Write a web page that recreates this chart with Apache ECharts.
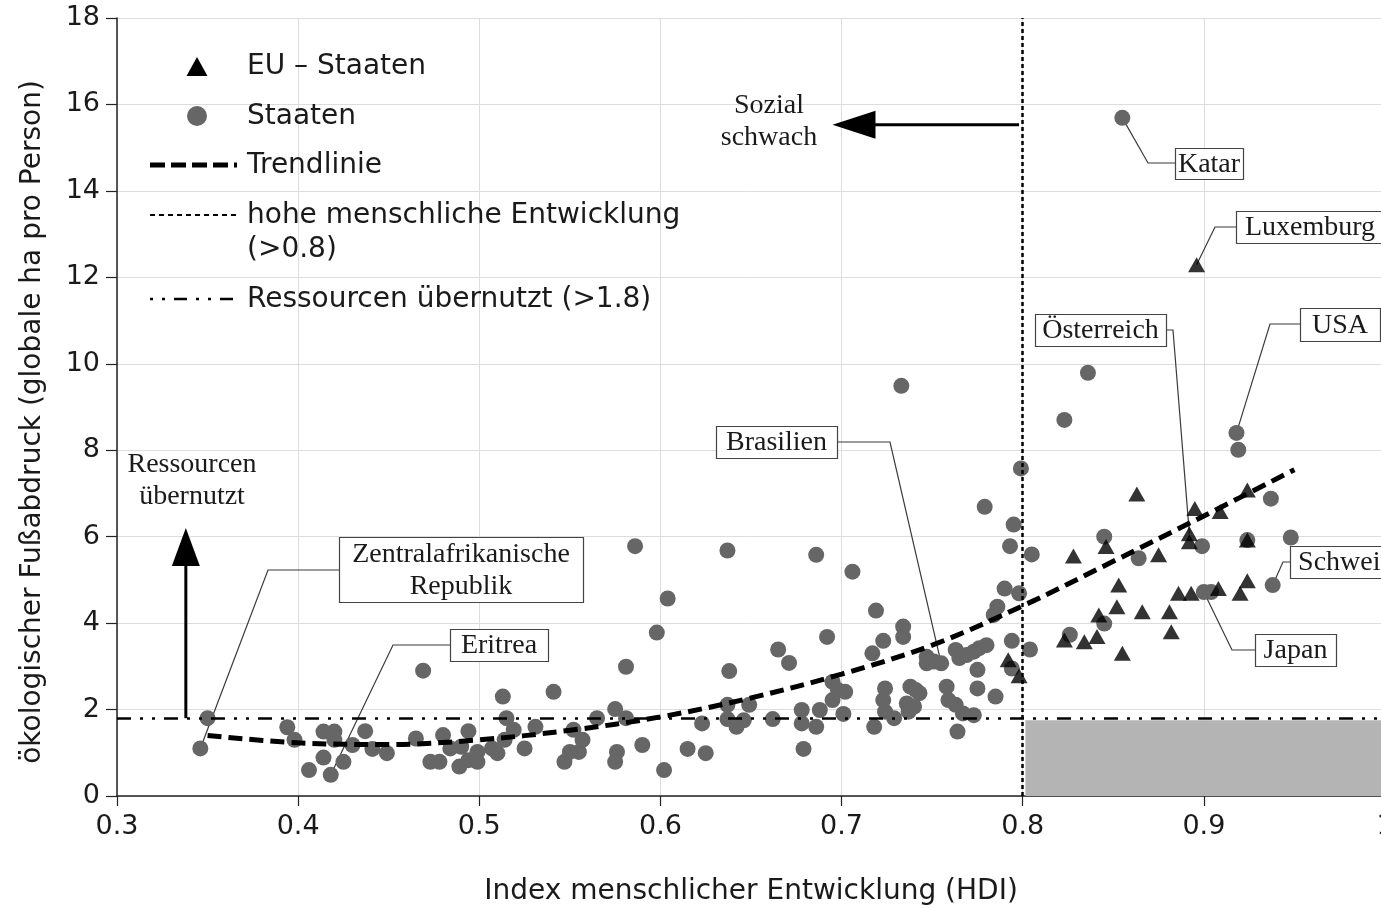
<!DOCTYPE html>
<html>
<head>
<meta charset="utf-8">
<script src="https://cdn.jsdelivr.net/npm/echarts@6/dist/echarts.min.js"></script>
<style>
  html, body { margin: 0; padding: 0; background: #fff; }
  #chart { width: 1381px; height: 909px; }
</style>
</head>
<body>
<div id="chart"></div>
<script>
// HDI (x) vs. ecological footprint in global hectares per person (y)
const staaten = [
  [0.350,1.80],[0.394,1.59],[0.398,1.30],[0.406,0.60],[0.414,1.49],[0.414,0.89],[0.420,1.49],[0.420,1.30],
  [0.425,0.79],[0.430,1.18],[0.437,1.50],[0.441,1.09],[0.449,0.99],[0.465,1.33],[0.469,2.90],[0.473,0.79],
  [0.478,0.79],[0.480,1.41],[0.484,1.10],[0.489,0.68],[0.490,1.14],[0.494,1.50],[0.494,0.83],[0.499,0.79],
  [0.499,1.02],[0.507,1.10],[0.510,0.99],[0.513,2.30],[0.515,1.80],[0.519,1.53],[0.514,1.30],[0.525,1.10],
  [0.531,1.60],[0.541,2.41],[0.547,0.79],[0.550,1.02],[0.555,1.02],[0.552,1.53],[0.557,1.30],[0.565,1.80],
  [0.575,2.01],[0.576,1.02],[0.575,0.79],[0.581,2.99],[0.581,1.80],[0.586,5.78],[0.637,5.68],[0.686,5.58],
  [0.604,4.57],[0.598,3.78],[0.638,2.89],[0.665,3.39],[0.671,3.08],[0.590,1.18],[0.602,0.60],[0.615,1.09],
  [0.625,0.99],[0.623,1.68],[0.637,2.11],[0.637,1.78],[0.642,1.60],[0.646,1.75],[0.649,2.11],[0.662,1.78],
  [0.678,1.99],[0.678,1.68],[0.679,1.09],[0.686,1.60],[0.688,1.99],[0.692,3.68],[0.695,2.64],[0.695,2.22],
  [0.698,2.45],[0.702,2.41],[0.701,1.90],[0.733,9.49],[0.706,5.19],[0.719,4.29],[0.734,3.92],[0.734,3.68],
  [0.723,3.59],[0.717,3.30],[0.718,1.60],[0.724,2.49],[0.723,2.22],[0.724,1.95],[0.729,1.80],[0.738,2.53],
  [0.741,2.45],[0.743,2.38],[0.736,2.14],[0.740,2.07],[0.737,1.95],[0.758,2.53],[0.759,2.22],[0.763,2.11],
  [0.767,1.91],[0.773,1.87],[0.764,1.49],[0.775,2.92],[0.775,2.49],[0.785,2.30],[0.747,3.22],[0.747,3.07],
  [0.751,3.11],[0.763,3.38],[0.765,3.19],[0.769,3.26],[0.773,3.34],[0.776,3.42],[0.780,3.49],[0.779,6.69],
  [0.799,7.58],[0.795,6.28],[0.793,5.78],[0.805,5.59],[0.790,4.80],[0.798,4.69],[0.786,4.38],[0.784,4.19],
  [0.794,3.59],[0.804,3.39],[0.794,2.95],[0.823,8.70],[0.836,9.79],[0.919,8.01],[0.845,6.00],[0.864,5.50],
  [0.845,3.99],[0.826,3.73],[0.899,5.78],[0.924,5.92],[0.937,6.88],[0.948,5.98],[0.904,4.72]
];

const euStaaten = [
  [0.792,3.15],[0.798,2.78],[0.863,6.99],[0.895,6.65],[0.909,6.58],[0.924,7.08],[0.924,5.92],[0.828,5.55],
  [0.846,5.77],[0.875,5.58],[0.892,5.88],[0.853,4.88],[0.852,4.38],[0.842,4.19],[0.866,4.26],[0.881,4.26],
  [0.882,3.80],[0.823,3.61],[0.834,3.57],[0.841,3.69],[0.855,3.30],[0.886,4.69],[0.893,4.69],[0.908,4.80],
  [0.920,4.69],[0.924,4.98]
];

// named countries
const namedStaaten = [
  { name: 'Zentralafrikanische Republik', hdi: 0.346, fp: 1.10 },
  { name: 'Eritrea', hdi: 0.418, fp: 0.49 },
  { name: 'Brasilien', hdi: 0.755, fp: 3.07 },
  { name: 'Katar', hdi: 0.855, fp: 15.69 },
  { name: 'USA', hdi: 0.918, fp: 8.40 },
  { name: 'Schweiz', hdi: 0.938, fp: 4.88 },
  { name: 'Japan', hdi: 0.900, fp: 4.72 }
];
const namedEuStaaten = [
  { name: 'Luxemburg', hdi: 0.896, fp: 12.29 },
  { name: 'Österreich', hdi: 0.892, fp: 6.07 }
];

// trend line
const trendHdi       = [0.35, 0.40, 0.45, 0.50, 0.55, 0.60, 0.65, 0.70, 0.75, 0.80, 0.85, 0.90, 0.95];
const trendFootprint = [1.40, 1.23, 1.19, 1.30, 1.52, 1.83, 2.27, 2.82, 3.49, 4.40, 5.43, 6.48, 7.55];

const hdiThreshold = 0.8;
const footprintThreshold = 1.8;
const capacityBand = 1.75;

// callout boxes: pixel layout of box and leader elbow
const calloutLayout = {
  'Katar':      { box: [1175, 148, 68, 31],  path: [[1175, 163], [1148, 163]] },
  'Luxemburg':  { box: [1236, 211, 148, 32], path: [[1236, 227], [1215, 227]] },
  'Österreich': { box: [1035, 314, 131, 32], path: [[1166, 330], [1173, 330]] },
  'USA':        { box: [1300, 308, 80, 33],  path: [[1300, 324], [1270, 324]] },
  'Brasilien':  { box: [716, 426, 121, 32],  path: [[837, 442], [890, 442]] },
  'Zentralafrikanische Republik': { box: [339, 537, 244, 65], path: [[339, 570], [268, 570]], text: 'Zentralafrikanische\nRepublik' },
  'Eritrea':    { box: [450, 629, 98, 32],   path: [[450, 645], [393, 645]] },
  'Schweiz':    { box: [1290, 546, 111, 32], path: [[1290, 562], [1283, 562]] },
  'Japan':      { box: [1255, 634, 81, 32],  path: [[1255, 650], [1232, 650]] }
};

const SANS = '"DejaVu Sans", "Liberation Sans", sans-serif';
const SERIF = '"Liberation Serif", "DejaVu Serif", serif';
const INK = '#1a1a1a';
const DOT_GREY = '#666666';

const chart = echarts.init(document.getElementById('chart'), null, { renderer: 'canvas' });

chart.setOption({
  animation: false,
  backgroundColor: '#ffffff',
  grid: { left: 117, right: -4, top: 18, bottom: 113, containLabel: false, outerBoundsMode: 'none' },
  xAxis: {
    type: 'value', min: 0.3, max: 1.0, interval: 0.1,
    name: 'Index menschlicher Entwicklung (HDI)',
    nameLocation: 'middle', nameGap: 82,
    nameTextStyle: { fontFamily: SANS, fontSize: 28, color: INK },
    axisLine: { lineStyle: { color: '#222', width: 1.5 } },
    axisTick: { show: true, length: 10, lineStyle: { color: '#222', width: 1.2 } },
    axisLabel: { fontFamily: SANS, fontSize: 27, color: INK, margin: 17 },
    splitLine: { show: true, lineStyle: { color: '#dddddd', width: 1 } }
  },
  yAxis: {
    type: 'value', min: 0, max: 18, interval: 2,
    name: 'ökologischer Fußabdruck (globale ha pro Person)',
    nameLocation: 'middle', nameGap: 70,
    nameTextStyle: { fontFamily: SANS, fontSize: 28, color: INK, padding: [0, 30, 0, 0] },
    axisLine: { show: true, lineStyle: { color: '#222', width: 1.5 } },
    axisTick: { show: true, length: 11, lineStyle: { color: '#222', width: 1.2 } },
    axisLabel: { fontFamily: SANS, fontSize: 27, color: INK, margin: 17 },
    splitLine: { show: true, lineStyle: { color: '#dddddd', width: 1 } }
  },
  series: [
    {
      name: 'Staaten', type: 'scatter', z: 3,
      symbol: 'circle', symbolSize: 16,
      itemStyle: { color: DOT_GREY, opacity: 1 },
      data: staaten.concat(namedStaaten.map(c => [c.hdi, c.fp]))
    },
    {
      name: 'Trendlinie', type: 'line', z: 4,
      smooth: 0.35, showSymbol: false, symbol: 'none',
      lineStyle: { color: '#000', width: 5, type: [14, 7] },
      data: trendHdi.map((h, i) => [h, trendFootprint[i]]),
      markLine: {
        silent: true, symbol: 'none', label: { show: false },
        data: [
          { xAxis: hdiThreshold, lineStyle: { color: '#000', width: 2.5, type: [4, 3] } },
          { yAxis: footprintThreshold, lineStyle: { color: '#000', width: 2.5, type: [14, 9, 3, 9, 3, 9] } }
        ]
      },
      markArea: {
        silent: true,
        itemStyle: { color: '#b4b4b4' },
        data: [[{ coord: [hdiThreshold + 0.0015, 0] }, { coord: [1.0, capacityBand] }]]
      }
    },
    {
      name: 'EU – Staaten', type: 'scatter', z: 5,
      symbol: 'triangle', symbolSize: [17, 15],
      itemStyle: { color: '#000' },
      data: euStaaten.concat(namedEuStaaten.map(c => [c.hdi, c.fp]))
    }
  ]
});

// ---- annotations drawn on top of the plot ----
const px = (x, y) => chart.convertToPixel({ gridIndex: 0 }, [x, y]);
const g = [];

// legend
const legendTextStyle = { font: '28px ' + SANS, fill: INK, verticalAlign: 'middle', align: 'left' };
g.push({ type: 'polygon', z: 20, shape: { points: [[197, 57], [186.5, 76], [207.5, 76]] }, style: { fill: '#000' } });
g.push({ type: 'text', z: 20, style: Object.assign({ text: 'EU – Staaten', x: 247, y: 67 }, legendTextStyle) });
g.push({ type: 'circle', z: 20, shape: { cx: 197, cy: 116, r: 10 }, style: { fill: DOT_GREY } });
g.push({ type: 'text', z: 20, style: Object.assign({ text: 'Staaten', x: 247, y: 117 }, legendTextStyle) });
g.push({ type: 'line', z: 20, shape: { x1: 150, y1: 165, x2: 237, y2: 165 }, style: { stroke: '#000', lineWidth: 5, lineDash: [15, 6] } });
g.push({ type: 'text', z: 20, style: Object.assign({ text: 'Trendlinie', x: 247, y: 166 }, legendTextStyle) });
g.push({ type: 'line', z: 20, shape: { x1: 150, y1: 215, x2: 237, y2: 215 }, style: { stroke: '#000', lineWidth: 2, lineDash: [5, 4] } });
g.push({ type: 'text', z: 20, style: Object.assign({ text: 'hohe menschliche Entwicklung', x: 247, y: 216 }, legendTextStyle) });
g.push({ type: 'text', z: 20, style: Object.assign({ text: '(>0.8)', x: 247, y: 250 }, legendTextStyle) });
g.push({ type: 'line', z: 20, shape: { x1: 150, y1: 299, x2: 241, y2: 299 }, style: { stroke: '#000', lineWidth: 2.5, lineDash: [3, 9, 3, 9, 13, 9] } });
g.push({ type: 'text', z: 20, style: Object.assign({ text: 'Ressourcen übernutzt (>1.8)', x: 247, y: 300 }, legendTextStyle) });

// upward arrow "Ressourcen übernutzt"
const upBase = px(0.338, footprintThreshold);
const upTip = px(0.338, 6.2);
g.push({ type: 'line', z: 20, shape: { x1: upBase[0], y1: upBase[1], x2: upTip[0], y2: upTip[1] + 30 }, style: { stroke: '#000', lineWidth: 3 } });
g.push({ type: 'polygon', z: 20, shape: { points: [[upTip[0], upTip[1]], [upTip[0] - 14, upTip[1] + 38], [upTip[0] + 14, upTip[1] + 38]] }, style: { fill: '#000' } });
g.push({ type: 'text', z: 20, style: { text: 'Ressourcen\nübernutzt', x: 192, y: 481, align: 'center', verticalAlign: 'middle', font: '28px ' + SERIF, lineHeight: 32, fill: INK } });

// leftward arrow "Sozial schwach"
const leftBase = px(hdiThreshold - 0.002, 15.53);
const leftTip = px(0.695, 15.53);
g.push({ type: 'line', z: 20, shape: { x1: leftBase[0], y1: leftBase[1], x2: leftTip[0] + 35, y2: leftTip[1] }, style: { stroke: '#000', lineWidth: 3 } });
g.push({ type: 'polygon', z: 20, shape: { points: [[leftTip[0], leftTip[1]], [leftTip[0] + 43, leftTip[1] - 14], [leftTip[0] + 43, leftTip[1] + 14]] }, style: { fill: '#000' } });
g.push({ type: 'text', z: 20, style: { text: 'Sozial\nschwach', x: 769, y: 122, align: 'center', verticalAlign: 'middle', font: '28px ' + SERIF, lineHeight: 32, fill: INK } });

// country callouts
namedStaaten.concat(namedEuStaaten).forEach(c => {
  const lay = calloutLayout[c.name];
  if (!lay) return;
  const p = px(c.hdi, c.fp);
  g.push({ type: 'polyline', z: 1, shape: { points: lay.path.concat([p]) }, style: { stroke: '#3a3a3a', lineWidth: 1.2, fill: null } });
  const [bx, by, bw, bh] = lay.box;
  g.push({ type: 'rect', z: 21, shape: { x: bx + 0.5, y: by + 0.5, width: bw, height: bh }, style: { fill: '#fff', stroke: '#444', lineWidth: 1.2 } });
  g.push({ type: 'text', z: 22, style: { text: lay.text || c.name, x: bx + bw / 2, y: by + bh / 2 + 1, align: 'center', verticalAlign: 'middle', font: '28px ' + SERIF, lineHeight: 32, fill: INK } });
});

chart.setOption({ graphic: { elements: g } });
</script>
</body>
</html>
